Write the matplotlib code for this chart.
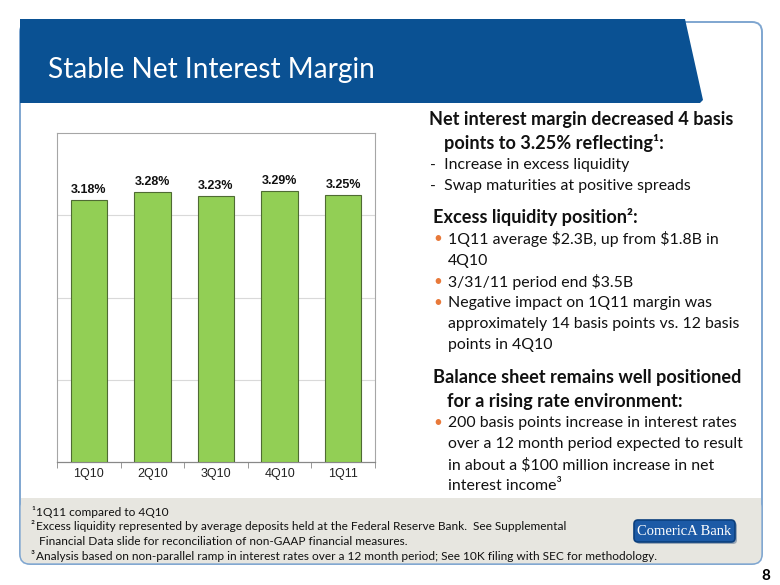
import matplotlib
matplotlib.use("Agg")
import matplotlib.pyplot as plt
from matplotlib.patches import Polygon, FancyBboxPatch, Rectangle

# chart data
quarters = ["1Q10", "2Q10", "3Q10", "4Q10", "1Q11"]
margin = [3.18, 3.28, 3.23, 3.29, 3.25]
bar_labels = ["3.18%", "3.28%", "3.23%", "3.29%", "3.25%"]

title = "Stable Net Interest Margin"
footnotes = [
    ("\u00b9", "1Q11 compared to 4Q10"),
    ("\u00b2", "Excess liquidity represented by average deposits held at the Federal Reserve Bank.  See Supplemental"),
    ("", " Financial Data slide for reconciliation of non-GAAP financial measures."),
    ("\u00b3", "Analysis based on non-parallel ramp in interest rates over a 12 month period; See 10K filing with SEC for methodology."),
]

TXT = "Lato"
BLUE = "#0a5193"
ORANGE = "#e8793a"

fig = plt.figure(figsize=(7.8, 5.85), dpi=100)
fig.patch.set_facecolor("white")

# full-page overlay in pixel coordinates
bg = fig.add_axes([0, 0, 1, 1])
bg.set_xlim(0, 780)
bg.set_ylim(585, 0)
bg.axis("off")

# outer frame and footnote panel
bg.add_patch(FancyBboxPatch((20, 22), 742, 542, boxstyle="round,pad=0,rounding_size=10",
                            fc="white", ec="#7fa6d0", lw=1.4, zorder=1))
bg.add_patch(FancyBboxPatch((20.7, 498), 740.6, 65.3, boxstyle="round,pad=0,rounding_size=9",
                            fc="#e7e6e0", ec="none", zorder=2))
bg.add_patch(Rectangle((20.7, 498), 740.6, 20, fc="#e7e6e0", ec="none", zorder=2))

# header bar
bg.add_patch(Polygon([(20, 19), (685, 19), (703, 100), (700, 103), (20, 103)],
                     closed=True, fc=BLUE, ec="none", zorder=3))
bg.text(48, 78, title, color="white", fontsize=20.2, family=TXT, va="baseline", zorder=4)

# right-hand commentary
def line(x, y, s, bold=False, size=11.4):
    bg.text(x, y, s, family=TXT, fontsize=size, fontweight="bold" if bold else "normal",
            color="#111111", va="center", zorder=4, parse_math=False)

def bullet(y, s):
    bg.text(433, y, "\u2022", color=ORANGE, fontsize=11, va="center", family=TXT, zorder=4)
    line(448, y, s)

line(429, 120, "Net interest margin decreased 4 basis", bold=True, size=13.05)
line(444, 143, "points to 3.25% reflecting\u00b9:", bold=True, size=13.05)
line(430, 165, "-  Increase in excess liquidity")
line(430, 186, "-  Swap maturities at positive spreads")
line(433, 217, "Excess liquidity position\u00b2:", bold=True, size=13.05)
bullet(239, "1Q11 average $2.3B, up from $1.8B in")
line(448, 261, "4Q10")
bullet(282, "3/31/11 period end $3.5B")
bullet(303, "Negative impact on 1Q11 margin was")
line(448, 324, "approximately 14 basis points vs. 12 basis")
line(448, 345, "points in 4Q10")
line(433, 377, "Balance sheet remains well positioned", bold=True, size=13.05)
line(447, 401, "for a rising rate environment:", bold=True, size=13.05)
bullet(423, "200 basis points increase in interest rates")
line(448, 444, "over a 12 month period expected to result")
line(448, 465, "in about a $100 million increase in net")
line(448, 486, "interest income\u00b3")

# footnotes
for i, (sup, txt) in enumerate(footnotes):
    y = 512 + i * 14.7
    if sup:
        bg.text(31, y, sup, family=TXT, fontsize=8.6, color="#111111", va="center", zorder=4)
    bg.text(35.5, y, txt, family=TXT, fontsize=8.6, color="#111111", va="center", zorder=4,
            parse_math=False)

# logo
bg.add_patch(FancyBboxPatch((636, 522), 101, 22, boxstyle="round,pad=0,rounding_size=4",
                            fc="#9aa7b5", ec="none", zorder=4))
bg.add_patch(FancyBboxPatch((634, 520), 101, 22, boxstyle="round,pad=0,rounding_size=4",
                            fc="#1c5aa6", ec="#0b3f7d", lw=1.2, zorder=4))
bg.text(684.5, 531.5, "ComericA Bank", color="white", family="Liberation Serif",
        fontsize=10.5, ha="center", va="center", zorder=5)

bg.text(766, 576, "8", family=TXT, fontweight="bold", fontsize=11, ha="center", va="center")

# bar chart
ax = fig.add_axes([57 / 780, 1 - 462 / 585, (375 - 57) / 780, (462 - 133) / 585])
ax.set_facecolor("white")
x = range(len(quarters))
bars = ax.bar(x, margin, width=0.57, color="#92cf55", edgecolor="#4f6b33", linewidth=0.8, zorder=3)
for b, lab in zip(bars, bar_labels):
    ax.annotate(lab, (b.get_x() + b.get_width() / 2, b.get_height()), xytext=(0, 3),
                textcoords="offset points", ha="center", va="bottom",
                family="Liberation Sans", fontweight="bold", fontsize=9, color="#111111")
ax.set_ylim(0, 4)
ax.set_xlim(-0.5, len(quarters) - 0.5)
ax.set_yticks([1, 2, 3])
ax.yaxis.grid(True, color="#d9d9d9", lw=0.8, zorder=0)
ax.tick_params(axis="y", length=0, labelleft=False)
ax.set_xticks(list(x))
ax.set_xticklabels(quarters, family="Liberation Sans", fontsize=9, color="#222222")
ax.tick_params(axis="x", length=0, pad=4)
ax.set_xticks([i - 0.5 for i in range(len(quarters) + 1)], minor=True)
ax.tick_params(axis="x", which="minor", length=4, color="#888888", direction="out")
for side in ["left", "top", "right"]:
    ax.spines[side].set_color("#a6a6a6")
    ax.spines[side].set_linewidth(0.8)
ax.spines["bottom"].set_color("#888888")
ax.spines["bottom"].set_linewidth(0.9)

fig.savefig("out.png", dpi=100)
